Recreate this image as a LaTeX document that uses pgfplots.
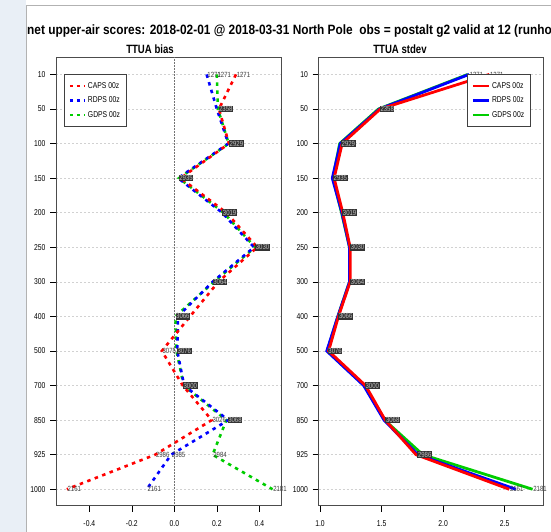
\documentclass[border=0pt]{standalone}
\usepackage{fontspec}
\setmainfont{Liberation Sans}
\newfontfamily\narrow[FakeStretch=0.8]{Liberation Sans}
\newfontfamily\titlefont[FakeStretch=0.88]{Liberation Sans}
\usepackage{pgfplots}
\usepackage{pgfplotstable}
\pgfplotsset{compat=1.18}
\definecolor{rgreen}{RGB}{0,205,0}
\definecolor{pale}{RGB}{233,239,246}

% level index: 0=10 hPa ... 12=1000 hPa
\pgfplotstableread{
lev red blue green
0  0.290  0.152  0.200
1  0.210  0.200  0.205
2  0.257  0.254  0.256
3  0.030  0.018  0.022
4  0.245  0.225  0.232
5  0.390  0.375  0.380
6  0.207  0.180  0.186
7  0.074  0.017  0.005
8  -0.059 0.014  0.010
9  0.040  0.046  0.044
10 0.176  0.254  0.245
11 -0.090 -0.015 0.180
12 -0.506 -0.130 0.462
}\bias
\pgfplotstableread{
lev red blue green
0  2.375  2.210  2.200
1  1.490  1.483  1.475
2  1.180  1.165  1.160
3  1.115  1.100  1.105
4  1.185  1.178  1.175
5  1.245  1.240  1.240
6  1.245  1.240  1.240
7  1.150  1.145  1.145
8  1.070  1.055  1.060
9  1.370  1.355  1.360
10 1.530  1.520  1.525
11 1.780  1.795  1.835
12 2.537  2.590  2.726
}\stdev
% sample sizes shown beside the points
\pgfplotstableread{
x lev t
0.207 1 2358
0.257 2 2929
0.020 3 2935
0.225 4 3019
0.380 5 3030
0.180 6 3064
0.005 7 3066
0.012 8 3076
0.040 9 3000
0.250 10 3068
}\biasbox
\pgfplotstableread{
x lev t
0.152 0 1271
0.200 0 1271
0.290 0 1271
-0.059 8 3075
0.176 10 3026
-0.090 11 2986
-0.015 11 2985
0.180 11 2984
-0.506 12 2161
-0.130 12 2161
0.462 12 2181
}\biasplain
\pgfplotstableread{
x lev t
1.485 1 2358
1.170 2 2929
1.105 3 2935
1.180 4 3019
1.245 5 3030
1.245 6 3064
1.148 7 3066
1.062 8 3076
1.364 9 3000
1.530 10 3068
1.790 11 2986
}\sdbox
\pgfplotstableread{
x lev t
2.210 0 1271
2.375 0 1271
2.537 12 2161
2.726 12 2181
}\sdplain

\pgfplotsset{
  panel/.style={
    scale only axis, width=225pt, height=448pt,
    ymin=-0.49, ymax=12.47, y dir=reverse,
    ytick={0,...,12},
    yticklabels={10,50,100,150,200,250,300,400,500,700,850,925,1000},
    tick align=outside, xtick pos=left, ytick pos=left,
    major tick length=6pt,
    tick style={black, line width=0.5pt},
    axis line style={black!70, line width=0.6pt},
    ymajorgrids, grid style={dash pattern=on 2pt off 2pt, black!18, line width=0.5pt},
    ticklabel style={font=\narrow\fontsize{8.5}{8.5}\selectfont},
    xticklabel style={yshift=-6pt},
    yticklabel style={xshift=-1pt},
    legend cell align=left, legend reversed,
    legend style={draw=black!75, line width=0.5pt, font=\narrow\fontsize{8.5}{9}\selectfont,
      inner xsep=4pt, inner ysep=6pt, row sep=3pt, anchor=north west},
  },
  lab/.style={draw=none, mark=none, forget plot, nodes near coords, point meta=explicit symbolic,
    every node near coord/.append style={anchor=west, font=\narrow\fontsize{7.5}{7.5}\selectfont, inner sep=0.6pt}},
}

\begin{document}
\begin{tikzpicture}
\path[use as bounding box] (0pt,0pt) rectangle (551pt,532pt);
\fill[pale] (0pt,0pt) rectangle (25.5pt,532pt);
\draw[black!30, line width=0.8pt] (26pt,0pt) -- (26pt,527pt) -- (551pt,527pt);
\node[anchor=west, inner sep=0pt, font=\titlefont\bfseries\fontsize{13.5}{14}\selectfont]
  at (27pt,501pt) {net upper-air scores: 2018-02-01 @ 2018-03-31 North Pole\ \ obs = postalt g2 valid at 12 (runhour};
\node[font=\narrow\bfseries\fontsize{12}{12}\selectfont] at (150pt,483pt) {TTUA bias};
\node[font=\narrow\bfseries\fontsize{12}{12}\selectfont] at (400pt,483pt) {TTUA stdev};

\begin{axis}[panel, at={(56pt,26.5pt)}, anchor=south west,
  xmin=-0.557, xmax=0.502,
  xtick={-0.4,-0.2,0,0.2,0.4}, xticklabels={-0.4,-0.2,0.0,0.2,0.4},
  legend style={at={(0.037,0.963)}},
  legend image code/.code={\draw[#1, line width=2.4pt, dash pattern=on 3pt off 4pt] (0pt,0pt) -- (15pt,0pt);},
]
\addplot[black!55, densely dotted, line width=0.5pt, forget plot] coordinates {(0,-0.49) (0,12.47)};
\addplot[rgreen, line width=2.6pt, dash pattern=on 3.5pt off 4.5pt] table[x=green, y=lev] {\bias};
\addplot[blue, line width=2.6pt, dash pattern=on 3.5pt off 4.5pt] table[x=blue, y=lev] {\bias};
\addplot[red, line width=2.6pt, dash pattern=on 3.5pt off 4.5pt] table[x=red, y=lev] {\bias};
\addplot[lab, every node near coord/.append style={fill=black!80, text=black!25}] table[x=x, y=lev, meta=t] {\biasbox};
\addplot[lab, every node near coord/.append style={text=black!75}] table[x=x, y=lev, meta=t] {\biasplain};
\legend{GDPS 00z, RDPS 00z, CAPS 00z}
\end{axis}

\begin{axis}[panel, at={(318.5pt,26.5pt)}, anchor=south west,
  xmin=0.988, xmax=2.815,
  xtick={1,1.5,2,2.5}, xticklabels={1.0,1.5,2.0,2.5},
  legend style={at={(0.661,0.963)}},
  legend image code/.code={\draw[#1, line width=2.6pt] (0pt,0pt) -- (16pt,0pt);},
]
\addplot[rgreen, line width=2.8pt] table[x=green, y=lev] {\stdev};
\addplot[blue, line width=2.8pt] table[x=blue, y=lev] {\stdev};
\addplot[red, line width=2.8pt] table[x=red, y=lev] {\stdev};
\addplot[lab, every node near coord/.append style={fill=black!80, text=black!25}] table[x=x, y=lev, meta=t] {\sdbox};
\addplot[lab, every node near coord/.append style={text=black!75}] table[x=x, y=lev, meta=t] {\sdplain};
\legend{GDPS 00z, RDPS 00z, CAPS 00z}
\end{axis}
\end{tikzpicture}
\end{document}
